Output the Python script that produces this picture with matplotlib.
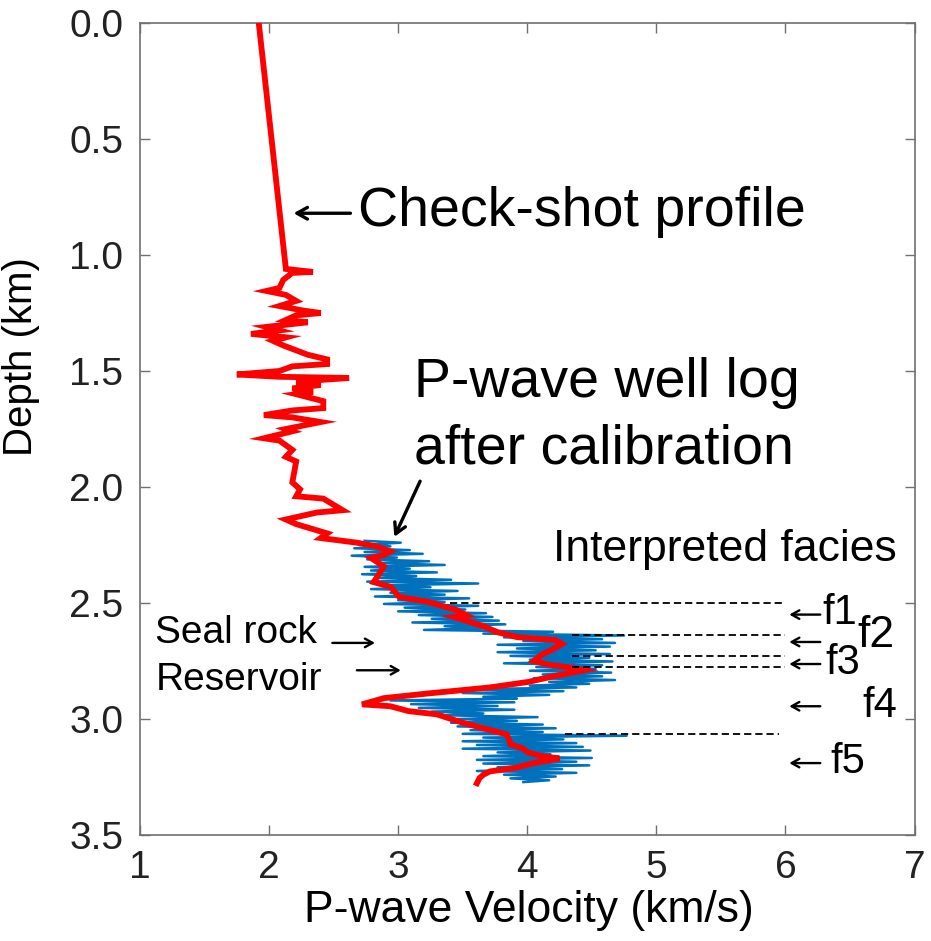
import numpy as np
import matplotlib
matplotlib.use("Agg")
import matplotlib.pyplot as plt

plt.rcParams['font.family'] = ['Liberation Sans', 'DejaVu Sans']

# ---- check-shot / calibrated velocity profile (depth km, Vp km/s) ----
red_depth = [0.00, 1.06, 1.073, 1.077, 1.107, 1.142, 1.155, 1.172, 1.198, 1.22,
             1.24, 1.25, 1.26, 1.28, 1.29, 1.31, 1.325, 1.34, 1.355, 1.37,
             1.39, 1.43, 1.45, 1.47, 1.48, 1.50, 1.515, 1.525, 1.53, 1.546,
             1.56, 1.575, 1.59, 1.60, 1.63, 1.66, 1.67, 1.69, 1.70, 1.72,
             1.75, 1.76, 1.79, 1.80, 1.84, 1.87, 1.89, 1.98, 2.01, 2.04,
             2.05, 2.10, 2.11, 2.14, 2.16, 2.20, 2.22, 2.24, 2.257, 2.278,
             2.293, 2.306, 2.343, 2.41, 2.43, 2.474, 2.495, 2.53, 2.553, 2.56,
             2.60, 2.626, 2.647, 2.66, 2.676, 2.705, 2.72, 2.75, 2.765, 2.78,
             2.79, 2.82, 2.84, 2.864, 2.89, 2.91, 2.937, 2.945, 2.966, 2.98,
             3.016, 3.04, 3.066, 3.09, 3.11, 3.125, 3.145, 3.16, 3.17, 3.19,
             3.21, 3.226, 3.24, 3.255, 3.277]
red_vel = [1.92, 2.13, 2.34, 2.18, 2.11, 2.08, 1.98, 2.13, 2.21, 2.08,
           2.27, 2.40, 2.21, 2.13, 2.30, 1.98, 2.08, 1.86, 2.13, 2.03,
           2.11, 2.30, 2.45, 2.45, 2.18, 2.08, 1.75, 2.08, 2.62, 2.21,
           2.40, 2.18, 2.34, 2.21, 2.42, 2.42, 2.18, 1.96, 2.18, 2.40,
           2.13, 2.18, 1.96, 2.08, 2.18, 2.13, 2.21, 2.18, 2.24, 2.21,
           2.42, 2.57, 2.37, 2.13, 2.21, 2.45, 2.40, 2.68, 2.84, 2.94,
           2.89, 2.79, 2.89, 2.81, 2.94, 3.01, 3.23, 3.45, 3.53, 3.43,
           3.66, 3.77, 3.92, 4.22, 4.27, 4.18, 4.12, 4.05, 4.16, 4.35,
           4.44, 4.17, 4.01, 3.71, 3.23, 2.89, 2.72, 2.94, 3.08, 3.30,
           3.50, 3.66, 3.84, 3.86, 3.87, 3.96, 4.01, 4.11, 4.25, 4.05,
           3.91, 3.71, 3.66, 3.63, 3.61]

# ---- P-wave sonic log, sampled every 8 m from 2.232 km ----
log_top = 2.232
log_step = 0.008
log_vel = [
    2.74, 3.02, 2.79, 2.94, 2.66, 3.09, 2.74, 3.19, 2.64, 2.99,
    2.76, 3.24, 2.84, 3.36, 2.74, 3.09, 2.79, 3.30, 2.72, 3.14,
    2.84, 3.41, 2.76, 3.62, 2.89, 3.25, 2.79, 3.46, 2.94, 3.36,
    2.82, 3.55, 3.00, 3.36, 2.89, 3.62, 3.05, 3.52, 3.00, 3.68,
    3.16, 3.73, 3.26, 3.78, 3.11, 3.83, 3.36, 3.68, 3.20, 4.20,
    3.66, 4.75, 3.82, 4.58, 3.97, 4.68, 3.77, 4.64, 3.92, 4.53,
    3.77, 4.64, 3.87, 4.48, 4.02, 4.66, 3.82, 4.58, 4.07, 4.53,
    4.02, 4.65, 4.12, 4.58, 4.05, 4.68, 4.17, 4.48, 4.02, 4.38,
    3.56, 4.28, 3.50, 4.17, 3.66, 3.92, 2.94, 3.90, 3.10, 3.77,
    3.16, 3.90, 3.26, 3.66, 3.36, 4.08, 3.46, 3.92, 3.41, 4.12,
    3.46, 4.22, 3.56, 4.12, 3.50, 4.77, 3.66, 4.28, 3.50, 4.38,
    3.61, 4.43, 3.50, 4.49, 3.77, 4.18, 3.66, 4.50, 3.61, 4.38,
    3.66, 4.48, 3.77, 4.27, 3.61, 4.38, 3.82, 4.22, 3.87, 4.17, 3.97,
]
log_depth = log_top + log_step * np.arange(len(log_vel))

# ---- facies boundaries ----
bound_depth = [2.50, 2.64, 2.727, 2.778, 3.066]
bound_start = [3.40, 4.35, 4.35, 4.35, 4.29]
bound_end = [6.00, 6.00, 6.00, 6.00, 5.95]

# facies names and where they sit
facies_names = ["f1", "f2", "f3", "f4", "f5"]
facies_x = [6.29, 6.56, 6.31, 6.60, 6.35]
facies_y = [2.545, 2.64, 2.76, 2.944, 3.185]
facies_size = [30, 32, 30, 30, 30]
# depth of the little left-pointing arrow for each facies
facies_arrow_y = [2.55, 2.668, 2.763, 2.945, 3.19]

fig = plt.figure(figsize=(9.31, 9.41), dpi=100)
ax = fig.add_axes([140 / 931, 1 - 835 / 941, 774.5 / 931, 812 / 941])

ax.plot(log_vel, log_depth, color='#0072BD', lw=1.8, zorder=2)
ax.plot(red_vel, red_depth, color='#FF0000', lw=4.2, solid_joinstyle='miter', zorder=3)

for d, x0, x1 in zip(bound_depth, bound_start, bound_end):
    ax.plot([x0, x1], [d, d], color='black', lw=1.3, linestyle=(0, (4, 2.2)), zorder=4)


def arrow(x0, y0, x1, y1, lw=1.6, scale=1.0):
    ax.annotate("", xy=(x1, y1), xytext=(x0, y0),
                arrowprops=dict(arrowstyle=f'->,head_length={0.5 * scale},head_width={0.28 * scale}',
                                lw=lw, color='black', shrinkA=0, shrinkB=0))


for name, x, y, fs, ay in zip(facies_names, facies_x, facies_y, facies_size, facies_arrow_y):
    ax.text(x, y, name, fontsize=fs, ha='left', va='center', zorder=5)
    arrow(6.27, ay, 6.03, ay, lw=1.7, scale=1.1)

ax.text(4.20, 2.27, "Interpreted facies", fontsize=32, ha='left', va='center')

ax.text(2.69, 0.815, "Check-shot profile", fontsize=40, ha='left', va='center')
arrow(2.63, 0.82, 2.19, 0.82, lw=2.4, scale=1.5)

ax.text(3.12, 1.55, "P-wave well log", fontsize=40, ha='left', va='center')
ax.text(3.12, 1.84, "after calibration", fontsize=40, ha='left', va='center')
arrow(3.17, 1.975, 2.97, 2.215, lw=2.4, scale=1.5)

ax.text(1.12, 2.63, "Seal rock", fontsize=28, ha='left', va='center')
ax.text(1.12, 2.83, "Reservoir", fontsize=28, ha='left', va='center')
arrow(2.49, 2.672, 2.82, 2.672, lw=1.7, scale=1.1)
arrow(2.68, 2.79, 3.02, 2.79, lw=1.7, scale=1.1)

ax.set_xlim(1, 7)
ax.set_ylim(3.5, 0)
ax.set_xticks(range(1, 8))
ax.set_yticks(np.arange(0, 3.51, 0.5))
ax.set_yticklabels([f"{t:.1f}" for t in np.arange(0, 3.51, 0.5)])
ax.tick_params(direction='in', top=True, right=True, length=7, width=1.0,
               color='#707070', labelsize=28, labelcolor='#222222')
ax.tick_params(axis='y', pad=12)
ax.tick_params(axis='x', pad=11)
for s in ax.spines.values():
    s.set_color('#707070')
    s.set_linewidth(1.2)

ax.set_xlabel("P-wave Velocity (km/s)", fontsize=32, color='black')
ax.set_ylabel("Depth (km)", fontsize=29, color='black')
ax.xaxis.set_label_coords(0.502, -0.068)
ax.yaxis.set_label_coords(-0.129, 0.589)

fig.savefig("out.png", dpi=100)
